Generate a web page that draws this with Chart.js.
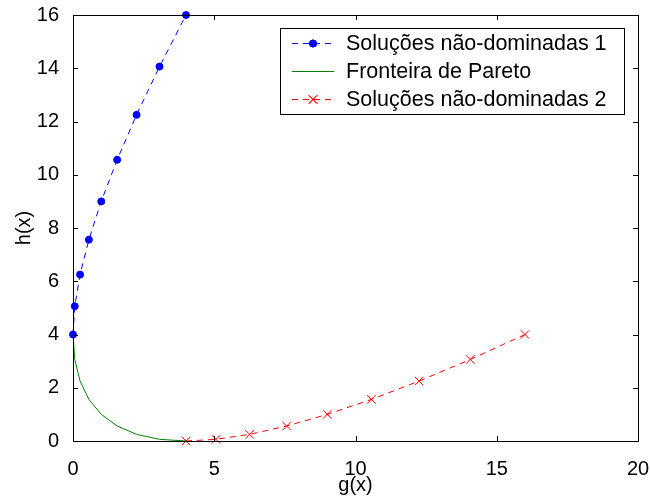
<!DOCTYPE html>
<html>
<head>
<meta charset="utf-8">
<script src="https://cdn.jsdelivr.net/npm/chart.js@4"></script>
<style>
  html, body { margin: 0; padding: 0; background: #fff; }
  #wrap { width: 650px; height: 497px; }
</style>
</head>
<body>
<div id="wrap"><canvas id="paretoChart"></canvas></div>
<script>
            // values
            const set1X = [0, 0.0625, 0.25, 0.5625, 1, 1.5625, 2.25, 3.0625, 4];
            const set1Y = [4, 5.0625, 6.25, 7.5625, 9, 10.5625, 12.25, 14.0625, 16];

            const frontX = [0, 0.0625, 0.25, 0.5625, 1, 1.5625, 2.25, 3.0625, 4];
            const frontY = [4, 3.0625, 2.25, 1.5625, 1, 0.5625, 0.25, 0.0625, 0];

            const set2X = [4, 5.0625, 6.25, 7.5625, 9, 10.5625, 12.25, 14.0625, 16];
            const set2Y = [0, 0.0625, 0.25, 0.5625, 1, 1.5625, 2.25, 3.0625, 4];

            const seriesLabels = [
                'Soluções não-dominadas 1',
                'Fronteira de Pareto',
                'Soluções não-dominadas 2'
            ];

            const xRange = [0, 20];
            const yRange = [0, 16];
            const xStep = 5;
            const yStep = 2;

            const FONT = '"Liberation Sans", Arial, sans-serif';
            Chart.defaults.font.family = FONT;
            Chart.defaults.color = '#000';

            function toPoints(xs, ys) {
                return xs.map((x, i) => ({ x: x, y: ys[i] }));
            }

            // MATLAB-like box, inner ticks and legend
            const matlabBox = {
                id: 'matlabBox',
                afterDraw(chart) {
                    const ctx = chart.ctx;
                    const a = chart.chartArea;
                    const xs = chart.scales.x;
                    const ys = chart.scales.y;
                    ctx.save();
                    ctx.strokeStyle = '#000';
                    ctx.lineWidth = 1;
                    ctx.setLineDash([]);
                    ctx.strokeRect(a.left + 0.5, a.top + 0.5, a.right - a.left, a.bottom - a.top);

                    ctx.beginPath();
                    xs.ticks.forEach(t => {
                        const px = Math.round(xs.getPixelForValue(t.value)) + 0.5;
                        ctx.moveTo(px, a.bottom);
                        ctx.lineTo(px, a.bottom - 5);
                        ctx.moveTo(px, a.top);
                        ctx.lineTo(px, a.top + 5);
                    });
                    ys.ticks.forEach(t => {
                        const py = Math.round(ys.getPixelForValue(t.value)) + 0.5;
                        ctx.moveTo(a.left, py);
                        ctx.lineTo(a.left + 5, py);
                        ctx.moveTo(a.right, py);
                        ctx.lineTo(a.right - 5, py);
                    });
                    ctx.stroke();

                    // legend
                    const bx = 280.5, by = 28.5, bw = 344, bh = 86;
                    ctx.fillStyle = '#fff';
                    ctx.fillRect(bx, by, bw, bh);
                    ctx.strokeStyle = '#000';
                    ctx.strokeRect(bx, by, bw, bh);

                    ctx.font = '21.5px ' + FONT;
                    ctx.textBaseline = 'middle';
                    ctx.textAlign = 'left';
                    chart.data.datasets.forEach((ds, i) => {
                        const cy = 43.5 + i * 28;
                        ctx.strokeStyle = ds.borderColor;
                        ctx.lineWidth = 1;
                        ctx.setLineDash(ds.borderDash || []);
                        ctx.beginPath();
                        ctx.moveTo(292, cy);
                        ctx.lineTo(334, cy);
                        ctx.stroke();
                        ctx.setLineDash([]);
                        if (ds.pointRadius > 0) {
                            Chart.helpers.drawPoint(ctx, {
                                pointStyle: ds.pointStyle,
                                radius: ds.pointRadius,
                                borderWidth: 1
                            }, 313, cy);
                            ctx.fillStyle = ds.pointBackgroundColor;
                            ctx.strokeStyle = ds.borderColor;
                            if (ds.pointStyle === 'circle') { ctx.fill(); }
                            ctx.stroke();
                        }
                        ctx.fillStyle = '#000';
                        ctx.fillText(ds.label, 346, cy + 1);
                    });
                    ctx.restore();
                }
            };

            const paretoData = {
                datasets: [
                    {
                        label: seriesLabels[0],
                        data: toPoints(set1X, set1Y),
                        showLine: true,
                        borderColor: 'rgb(0, 0, 255)',
                        backgroundColor: 'rgb(0, 0, 255)',
                        pointBackgroundColor: 'rgb(0, 0, 255)',
                        borderWidth: 1,
                        borderDash: [6, 5],
                        pointStyle: 'circle',
                        pointRadius: 3.5,
                        clip: false
                    },
                    {
                        label: seriesLabels[1],
                        data: toPoints(frontX, frontY),
                        showLine: true,
                        borderColor: 'rgb(0, 128, 0)',
                        backgroundColor: 'rgb(0, 128, 0)',
                        borderWidth: 1,
                        pointRadius: 0,
                        clip: false
                    },
                    {
                        label: seriesLabels[2],
                        data: toPoints(set2X, set2Y),
                        showLine: true,
                        borderColor: 'rgb(255, 0, 0)',
                        backgroundColor: 'rgb(255, 0, 0)',
                        pointBackgroundColor: 'rgb(255, 0, 0)',
                        borderWidth: 1,
                        borderDash: [6, 5],
                        pointStyle: 'crossRot',
                        pointRadius: 6,
                        clip: false
                    }
                ]
            };

            const paretoCfg = {
                type: 'scatter',
                data: paretoData,
                options: {
                    responsive: true,
                    maintainAspectRatio: false,
                    animation: false,
                    layout: { padding: { top: 15, right: 12, left: 0, bottom: 0 } },
                    plugins: {
                        legend: { display: false },
                        tooltip: { enabled: false }
                    },
                    scales: {
                        x: {
                            type: 'linear',
                            min: xRange[0],
                            max: xRange[1],
                            grid: { display: false },
                            border: { display: false },
                            ticks: { stepSize: xStep, padding: 8, font: { size: 20 }, color: '#000', maxRotation: 0 },
                            title: { display: true, text: 'g(x)', font: { size: 20 }, color: '#000', padding: 0 },
                            afterFit(s) {
                                s.height = 56;
                                s.paddingLeft = 0;
                                s.paddingRight = 0;
                            }
                        },
                        y: {
                            type: 'linear',
                            min: yRange[0],
                            max: yRange[1],
                            grid: { display: false },
                            border: { display: false },
                            ticks: { stepSize: yStep, padding: 6, font: { size: 20 }, color: '#000' },
                            title: { display: true, text: 'h(x)', font: { size: 20 }, color: '#000', padding: { top: 12, bottom: 0 } },
                            afterFit(s) {
                                s.width = 73;
                                s.paddingTop = 0;
                                s.paddingBottom = 0;
                            }
                        }
                    }
                },
                plugins: [matlabBox]
            };

            const paretoChart = new Chart(
                document.getElementById('paretoChart'),
                paretoCfg
            );
</script>
</body>
</html>
